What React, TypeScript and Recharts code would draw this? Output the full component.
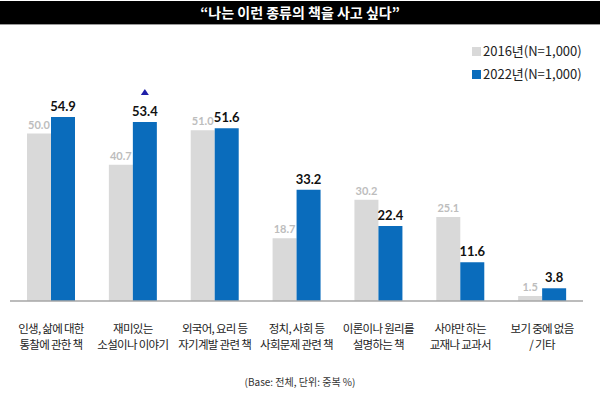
import React from "react"
import { BarChart, Bar, XAxis, YAxis, LabelList } from "recharts"

const categories = [
  ["인생, 삶에 대한", "통찰에 관한 책"],
  ["재미있는", "소설이나 이야기"],
  ["외국어, 요리 등", "자기계발 관련 책"],
  ["정치, 사회 등", "사회문제 관련 책"],
  ["이론이나 원리를", "설명하는 책"],
  ["사야만 하는", "교재나 교과서"],
  ["보기 중에 없음", "/ 기타"],
]
const values2016 = [50.0, 40.7, 51.0, 18.7, 30.2, 25.1, 1.5]
const values2022 = [54.9, 53.4, 51.6, 33.2, 22.4, 11.6, 3.8]
const risingIndex = [1]

const GRAY = "#d9d9d9"
const BLUE = "#0a6cbc"
const FONT = "'Noto Sans CJK KR', 'Noto Sans', sans-serif"

const data = categories.map((c, i) => ({
  name: i,
  y2016: values2016[i],
  y2022: values2022[i],
}))

function CatTick({ x, y, payload }: any) {
  const lines = categories[payload.value]
  return (
    <text x={x} y={y} textAnchor="middle" fontSize={11.5} letterSpacing={-0.7} fill="#222" fontFamily={FONT}>
      {lines.map((l, k) => (
        <tspan key={k} x={x} dy={k === 0 ? 24 : 16}>{l}</tspan>
      ))}
    </text>
  )
}

function GrayLabel({ x, y, width, value }: any) {
  return (
    <text x={x + width / 2} y={y - 5} textAnchor="middle" fontSize={11} fontWeight={700} fill="#bdbdbd" fontFamily="Lato, sans-serif">
      {value.toFixed(1)}
    </text>
  )
}

function BlueLabel({ x, y, width, value, index }: any) {
  const cx = x + width / 2
  return (
    <g>
      <text x={cx} y={y - 6} textAnchor="middle" fontSize={13} fontWeight={700} fill="#111" fontFamily="Lato, sans-serif">
        {value.toFixed(1)}
      </text>
      {risingIndex.includes(index) && (
        <polygon points={`${cx - 4},${y - 27} ${cx + 4},${y - 27} ${cx},${y - 33}`} fill="#1f1fa8" />
      )}
    </g>
  )
}

export default function App() {
  return (
    <div style={{ position: "absolute", left: 0, top: 0, width: 600, height: 395, background: "#fff", fontFamily: FONT }}>
      <div style={{
        position: "absolute", left: 0, top: 1, width: 600, height: 23, background: "#000",
        borderBottom: "1px solid #999", color: "#fff", fontSize: 14, fontWeight: 700,
        textAlign: "center", lineHeight: "23px",
      }}>
        “나는 이런 종류의 책을 사고 싶다”
      </div>

      <div style={{ position: "absolute", left: 472, top: 43, fontSize: 13, color: "#222", lineHeight: "16px" }}>
        {[["2016년(N=1,000)", GRAY], ["2022년(N=1,000)", BLUE]].map(([t, c], i) => (
          <div key={t} style={{ display: "flex", alignItems: "center", marginBottom: 7 }}>
            <span style={{ display: "inline-block", width: 9, height: 9, background: c, marginRight: 2 }} />
            {t}
          </div>
        ))}
      </div>

      <div style={{ position: "absolute", left: 0, top: 0 }}>
        <BarChart width={600} height={395} data={data} barSize={24} barGap={0}
          margin={{ top: 100, right: 17, left: 10, bottom: 34 }}>
          <XAxis dataKey="name" height={60} tick={<CatTick />} tickLine={false}
            axisLine={{ stroke: "#a6a6a6", strokeWidth: 1.5 }} interval={0} />
          <YAxis hide domain={[0, 60]} />
          <Bar dataKey="y2016" fill={GRAY} isAnimationActive={false}>
            <LabelList dataKey="y2016" content={<GrayLabel />} />
          </Bar>
          <Bar dataKey="y2022" fill={BLUE} isAnimationActive={false}>
            <LabelList dataKey="y2022" content={<BlueLabel />} />
          </Bar>
        </BarChart>
      </div>

      <div style={{ position: "absolute", left: 0, top: 374, width: 600, textAlign: "center", fontSize: 10, color: "#333" }}>
        (Base: 전체, 단위: 중복 %)
      </div>
    </div>
  )
}
